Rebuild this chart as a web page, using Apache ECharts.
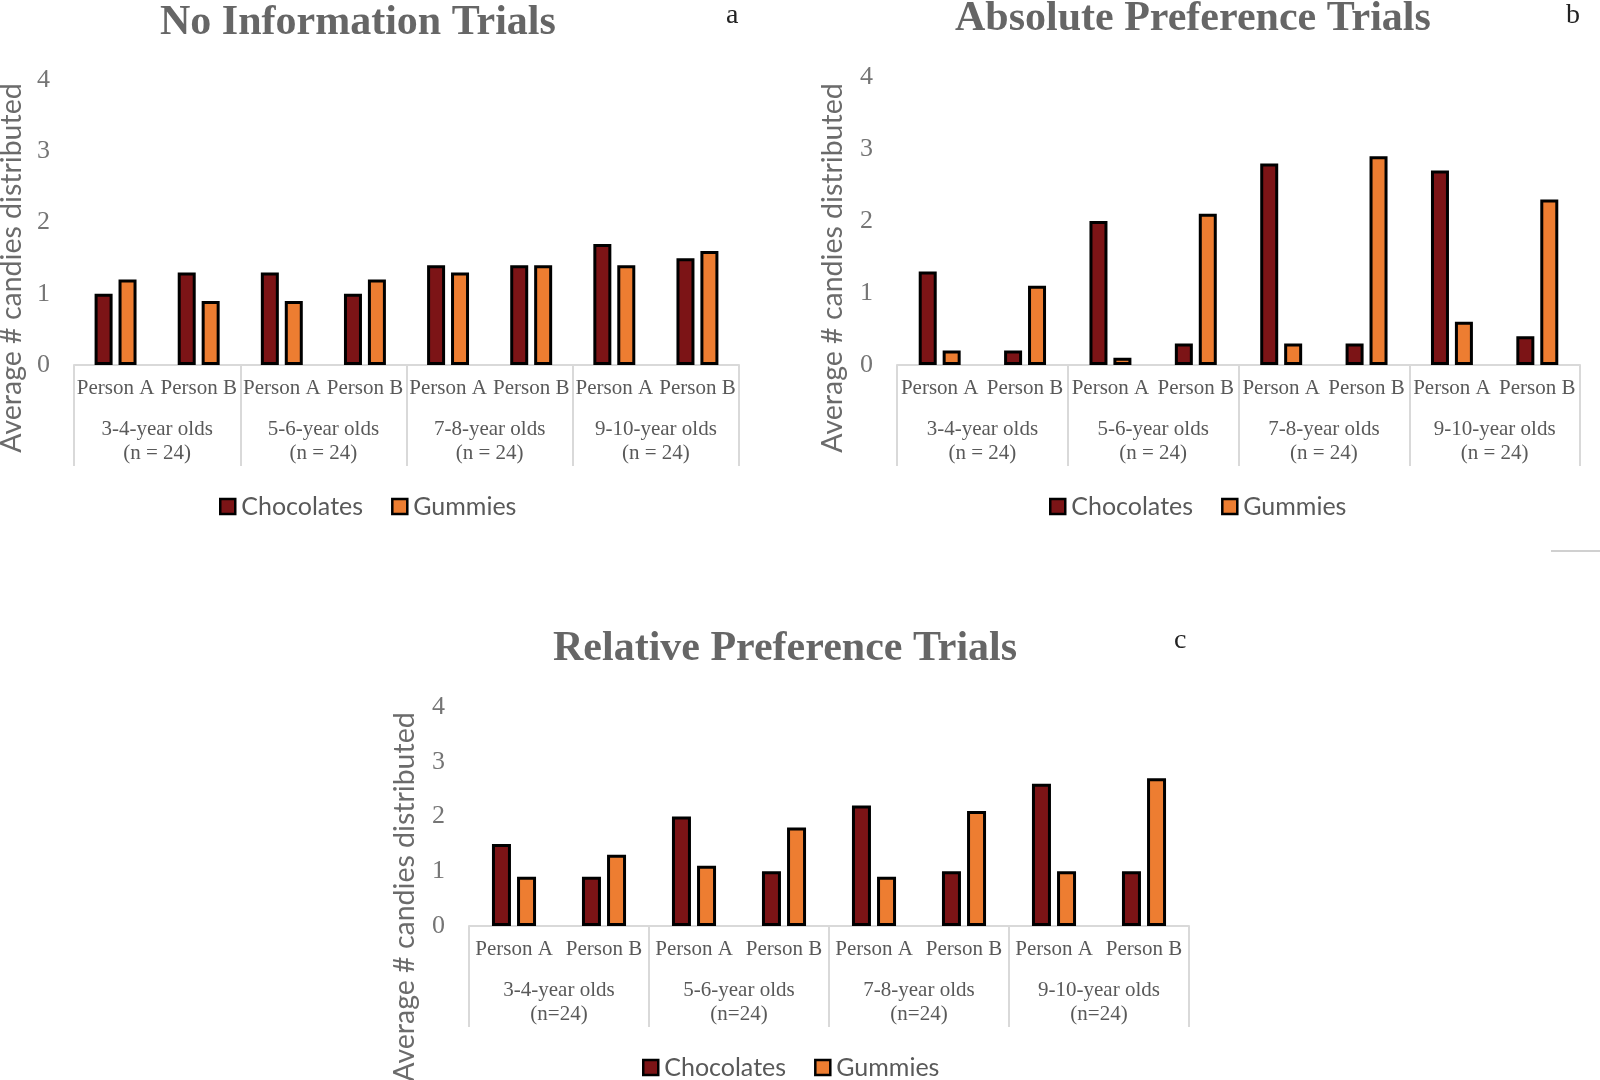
<!DOCTYPE html>
<html>
<head>
<meta charset="utf-8">
<script src="https://cdn.jsdelivr.net/npm/echarts@6/dist/echarts.min.js"></script>
<style>
html,body{margin:0;padding:0;background:#fff;}
#chart{width:1600px;height:1080px;}
</style>
</head>
<body>
<div id="chart"></div>
<script>
// ---- data ----
const persons = ['Person A', 'Person B', 'Person A', 'Person B', 'Person A', 'Person B', 'Person A', 'Person B'];
const ageGroupsAB = ['3-4-year olds\n(n = 24)', '5-6-year olds\n(n = 24)', '7-8-year olds\n(n = 24)', '9-10-year olds\n(n = 24)'];
const ageGroupsC = ['3-4-year olds\n(n=24)', '5-6-year olds\n(n=24)', '7-8-year olds\n(n=24)', '9-10-year olds\n(n=24)'];
const seriesNames = ['Chocolates', 'Gummies'];
const yTicks = [0, 1, 2, 3, 4];

const noInfoChocolates = [1.0, 1.3, 1.3, 1.0, 1.4, 1.4, 1.7, 1.5];
const noInfoGummies    = [1.2, 0.9, 0.9, 1.2, 1.3, 1.4, 1.4, 1.6];

const absoluteChocolates = [1.3, 0.2, 2.0, 0.3, 2.8, 0.3, 2.7, 0.4];
const absoluteGummies    = [0.2, 1.1, 0.1, 2.1, 0.3, 2.9, 0.6, 2.3];

const relativeChocolates = [1.5, 0.9, 2.0, 1.0, 2.2, 1.0, 2.6, 1.0];
const relativeGummies    = [0.9, 1.3, 1.1, 1.8, 0.9, 2.1, 1.0, 2.7];

const panelTitles = ['No Information Trials', 'Absolute Preference Trials', 'Relative Preference Trials'];
const panelLetters = ['a', 'b', 'c'];
const yAxisTitle = 'Average # candies distributed';

// ---- styles ----
const SERIF = '"Liberation Serif", "Times New Roman", serif';
const SANS = 'Lato, "Open Sans", sans-serif';
const CHOC = '#7c1416';
const GUM = '#ed7d31';
const AXIS_GRAY = '#d9d9d9';
const LABEL_GRAY = '#595959';

const panels = [
  { grid: { left: 74, top: 80, width: 665, height: 285 }, groups: ageGroupsAB, choc: noInfoChocolates, gum: noInfoGummies, barWidth: 18, barGap: '33%',
    legend: { left: 219, top: 494 }, yName: { x: 12, y: 268 } },
  { grid: { left: 897, top: 77, width: 683, height: 288 }, groups: ageGroupsAB, choc: absoluteChocolates, gum: absoluteGummies, barWidth: 18, barGap: '33%',
    legend: { left: 1049, top: 494 }, yName: { x: 833, y: 268 } },
  { grid: { left: 469, top: 707, width: 720, height: 219 }, groups: ageGroupsC, choc: relativeChocolates, gum: relativeGummies, barWidth: 19, barGap: '32%',
    legend: { left: 642, top: 1055 }, yName: { x: 405, y: 897 } }
];

const titleLayout = [
  { left: 160, top: 2 },
  { left: 955, top: -2 },
  { left: 553, top: 628 }
];
const letterLayout = [
  { left: 726, top: 2 },
  { left: 1566, top: 2 },
  { left: 1174, top: 627 }
];

const grids = [], xAxes = [], yAxes = [], series = [], legends = [], titles = [], graphics = [];

panels.forEach((p, i) => {
  grids.push(Object.assign({ containLabel: false, outerBoundsMode: 'none' }, p.grid));
  xAxes.push({
    type: 'category', gridIndex: i, data: persons, position: 'bottom',
    axisLine: { show: true, lineStyle: { color: AXIS_GRAY, width: 2 } },
    axisTick: { show: false },
    splitLine: { show: false },
    axisLabel: { interval: 0, fontFamily: SERIF, fontSize: 21, color: LABEL_GRAY, margin: 13 }
  });
  xAxes.push({
    type: 'category', gridIndex: i, data: p.groups, position: 'bottom',
    axisLine: { show: false },
    axisTick: { show: true, interval: 0, length: 101, lineStyle: { color: AXIS_GRAY, width: 2 } },
    splitLine: { show: false },
    axisLabel: { interval: 0, fontFamily: SERIF, fontSize: 21, lineHeight: 24, color: LABEL_GRAY, margin: 52 }
  });
  yAxes.push({
    type: 'value', gridIndex: i, min: yTicks[0], max: yTicks[yTicks.length - 1], interval: 1,
    axisLine: { show: false }, axisTick: { show: false }, splitLine: { show: false },
    axisLabel: { fontFamily: SERIF, fontSize: 26, color: '#757575', margin: 24 }
  });
  [p.choc, p.gum].forEach((vals, k) => {
    series.push({
      type: 'bar', name: seriesNames[k], xAxisIndex: 2 * i, yAxisIndex: i,
      data: vals, barWidth: p.barWidth, barGap: p.barGap,
      itemStyle: { color: k === 0 ? CHOC : GUM, borderColor: '#000', borderWidth: 3 },
      silent: true
    });
  });
  legends.push({
    left: p.legend.left, top: p.legend.top, padding: 0,
    data: seriesNames, itemWidth: 15, itemHeight: 15, itemGap: 28, selectedMode: false,
    icon: 'rect',
    itemStyle: { borderColor: '#000', borderWidth: 2.5 },
    textStyle: { fontFamily: SANS, fontSize: 25, color: LABEL_GRAY, padding: [0, 0, 0, 1] }
  });
  titles.push({
    text: panelTitles[i], left: titleLayout[i].left, top: titleLayout[i].top, padding: 0,
    textStyle: { fontFamily: SERIF, fontWeight: 'bold', fontSize: 42, color: '#666666', lineHeight: 42 }
  });
  titles.push({
    text: panelLetters[i], left: letterLayout[i].left, top: letterLayout[i].top, padding: 0,
    textStyle: { fontFamily: SERIF, fontWeight: 'normal', fontSize: 28, color: '#222', lineHeight: 28 }
  });
  graphics.push({
    type: 'text', x: p.yName.x, y: p.yName.y, rotation: Math.PI / 2,
    style: { text: yAxisTitle, fontFamily: SANS, fontSize: 28.5, fill: '#6b6b6b', textAlign: 'center', textVerticalAlign: 'middle', align: 'center', verticalAlign: 'middle' }
  });
});

// faint border fragment at the right edge of the reference figure
graphics.push({
  type: 'line', shape: { x1: 1551, y1: 551, x2: 1600, y2: 551 },
  style: { stroke: '#d0d0d0', lineWidth: 2 }, silent: true
});

const chart = echarts.init(document.getElementById('chart'), null, { renderer: 'canvas' });
chart.setOption({
  animation: false,
  backgroundColor: '#ffffff',
  title: titles,
  legend: legends,
  grid: grids,
  xAxis: xAxes,
  yAxis: yAxes,
  series: series,
  graphic: graphics
});
</script>
</body>
</html>
